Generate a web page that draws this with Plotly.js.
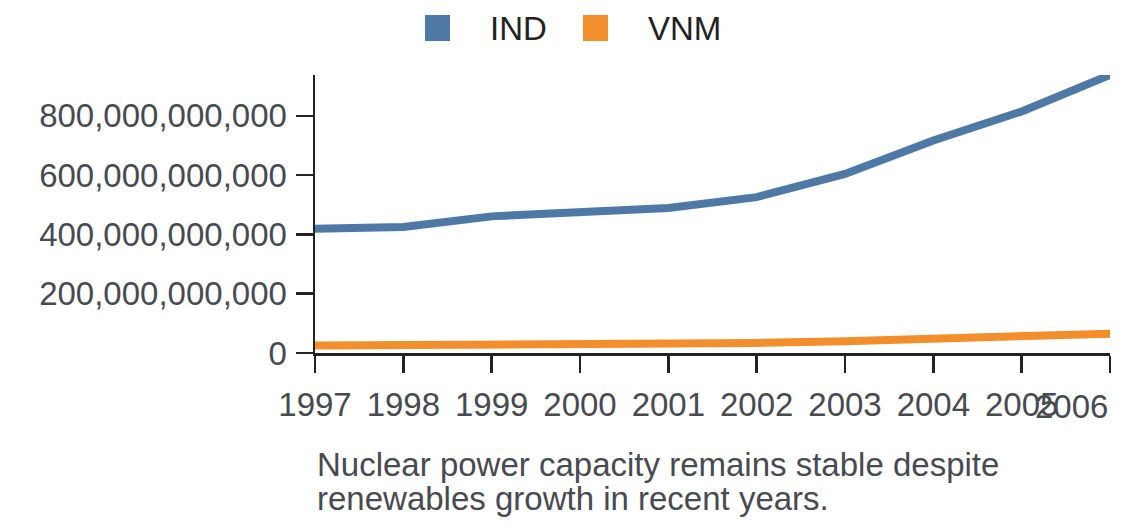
<!DOCTYPE html>
<html>
<head>
<meta charset="utf-8">
<script src="https://cdn.plot.ly/plotly-3.0.1.min.js"></script>
<style>
  html, body { margin: 0; padding: 0; background: #fff; }
  #chart { width: 1140px; height: 528px; }
</style>
</head>
<body>
<div id="chart"></div>
<script>
// data
var years = [1997, 1998, 1999, 2000, 2001, 2002, 2003, 2004, 2005, 2006];
var ind = [419e9, 425e9, 461e9, 474e9, 489e9, 526e9, 604e9, 717e9, 815e9, 938e9];
var vnm = [25e9, 25.5e9, 27e9, 29e9, 31e9, 34e9, 40e9, 48e9, 57e9, 65e9];
var seriesNames = ['IND', 'VNM'];
var seriesColors = ['#4e79a7', '#f28e2b'];
var yTicks = [0, 200e9, 400e9, 600e9, 800e9];
var captionLines = ['Nuclear power capacity remains stable despite', 'renewables growth in recent years.'];

var font = 'Liberation Sans, Arial, sans-serif';
var fs = 33;
var textColor = '#474a50';
var lastYear = years[years.length - 1];

var traces = [ind, vnm].map(function (vals, i) {
  return {
    type: 'scatter',
    mode: 'lines',
    x: years,
    y: vals,
    name: seriesNames[i],
    line: {color: seriesColors[i], width: 8},
    cliponaxis: false,
    hoverinfo: 'x+y+name'
  };
});

// legend drawn by hand: big squares + labels above the plot
var legendSquares = [[0.1384, 0.1698], [0.3371, 0.3686]];
var legendText = [0.2176, 0.4164];
var shapes = seriesNames.map(function (n, i) {
  return {
    type: 'rect', xref: 'paper', yref: 'paper',
    x0: legendSquares[i][0], x1: legendSquares[i][1],
    y0: 1.1223, y1: 1.2158,
    fillcolor: seriesColors[i], line: {width: 0}
  };
});
var annotations = seriesNames.map(function (n, i) {
  return {
    text: n, xref: 'paper', yref: 'paper',
    x: legendText[i], y: 1.169, xanchor: 'left', yanchor: 'middle',
    showarrow: false, font: {family: font, size: fs, color: '#222'}
  };
});
// last year label sits flush right on its tick
annotations.push({
  text: String(lastYear), xref: 'x', yref: 'paper',
  x: lastYear, y: 0, xanchor: 'right', yanchor: 'top', yshift: -33,
  showarrow: false, font: {family: font, size: fs, color: textColor}
});
// caption, one annotation per line so the lines sit close like the original
captionLines.forEach(function (t, i) {
  annotations.push({
    text: t, xref: 'paper', yref: 'paper',
    x: 0, y: 0, xanchor: 'left', yanchor: 'top', yshift: -91 - 34 * i, align: 'left',
    showarrow: false, font: {family: font, size: fs, color: textColor}
  });
});

var layout = {
  width: 1140,
  height: 528,
  margin: {l: 315, r: 30, t: 75, b: 175},
  paper_bgcolor: '#fff',
  plot_bgcolor: '#fff',
  showlegend: false,
  font: {family: font, color: textColor},
  xaxis: {
    range: [years[0], lastYear],
    tickmode: 'array',
    tickvals: years,
    ticktext: years.map(function (y) { return y === lastYear ? '' : String(y); }),
    ticks: 'outside', ticklen: 17, tickwidth: 2.5, tickcolor: '#222',
    ticklabelstandoff: 4,
    showline: true, linecolor: '#222', linewidth: 2.5,
    showgrid: false, zeroline: false,
    tickfont: {family: font, size: fs, color: textColor}
  },
  yaxis: {
    range: [0, Math.max.apply(null, ind)],
    tickmode: 'array',
    tickvals: yTicks,
    tickformat: ',d',
    ticks: 'outside', ticklen: 17, tickwidth: 2.5, tickcolor: '#222',
    ticklabelstandoff: 2,
    showline: true, linecolor: '#222', linewidth: 2.5,
    showgrid: false, zeroline: false,
    tickfont: {family: font, size: fs, color: textColor}
  },
  shapes: shapes,
  annotations: annotations
};

Plotly.newPlot('chart', traces, layout, {displayModeBar: false, staticPlot: true});
</script>
</body>
</html>
